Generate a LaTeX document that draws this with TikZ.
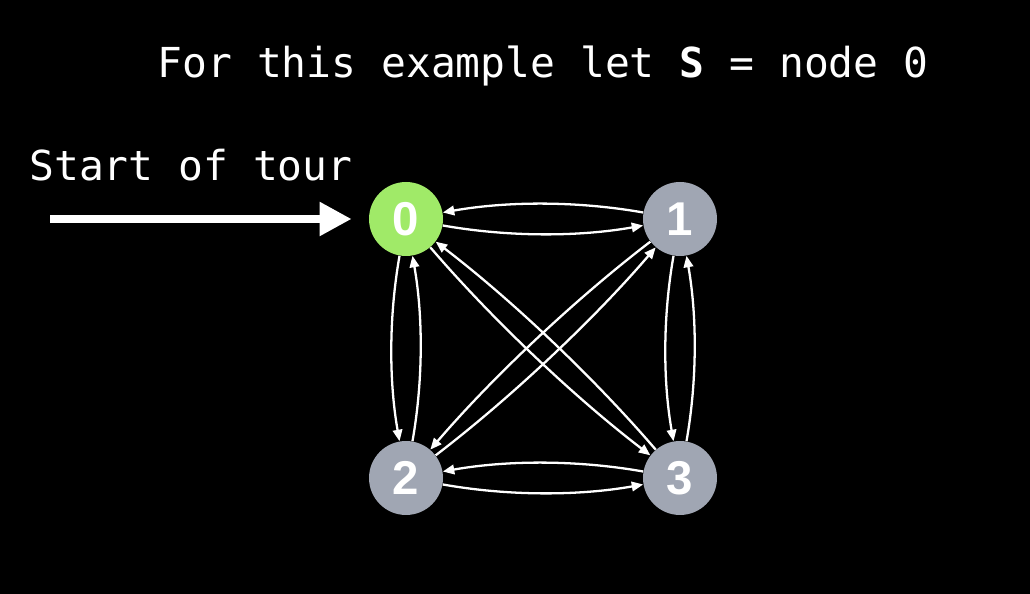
\documentclass[tikz,border=0pt]{standalone}
\usepackage{fontspec}
\usepackage{tikz}
\usetikzlibrary{arrows.meta}
\setmainfont{Liberation Sans}
\newfontfamily\codefont{DejaVu Sans Mono}
\definecolor{startgreen}{RGB}{160,234,104}
\definecolor{nodegray}{RGB}{160,166,179}

\begin{document}
\begin{tikzpicture}[x=0.02cm,y=0.02cm,
    city/.style={circle,fill=nodegray,minimum size=1.48cm,inner sep=0pt,
                 text=white,font=\fontsize{27}{28}\selectfont\bfseries},
    trip/.style={draw=white,line width=1.3pt,-{Triangle[length=0.23cm,width=0.19cm]}},
    caption/.style={text=white,font=\codefont\fontsize{23.5}{25}\selectfont,anchor=base}]
    \fill[black] (0,0) rectangle (1030,594);
    \useasboundingbox (0,0) rectangle (1030,594);
    %the four cities of the tour
    \node[city,fill=startgreen] (n0) at (406,375) {0};
    \node[city] (n1) at (680,375) {1};
    \node[city] (n2) at (406,116) {2};
    \node[city] (n3) at (680,116) {3};
    \node[caption] (title) at (543,516) {For this example let \textbf{S} = node 0};
    \node[caption] (startlbl) at (191,413) {Start of tour};
    %start arrow
    \coordinate (tourstart) at (50,375);
    \draw[white,line width=0.16cm,shorten >=0.34cm,-{Triangle[length=0.64cm,width=0.64cm]}] (tourstart) -- (n0.west);
    %every pair is connected both ways
    \foreach \a/\b in {n0/n1,n1/n0,n0/n2,n2/n0,n1/n3,n3/n1,n2/n3,n3/n2}
        \draw[trip] (\a) to[bend right=10,looseness=0.85] (\b);
    \foreach \a/\b in {n0/n3,n3/n0,n1/n2,n2/n1}
        \draw[trip] (\a) to[bend right=6,looseness=0.8] (\b);
\end{tikzpicture}
\end{document}
